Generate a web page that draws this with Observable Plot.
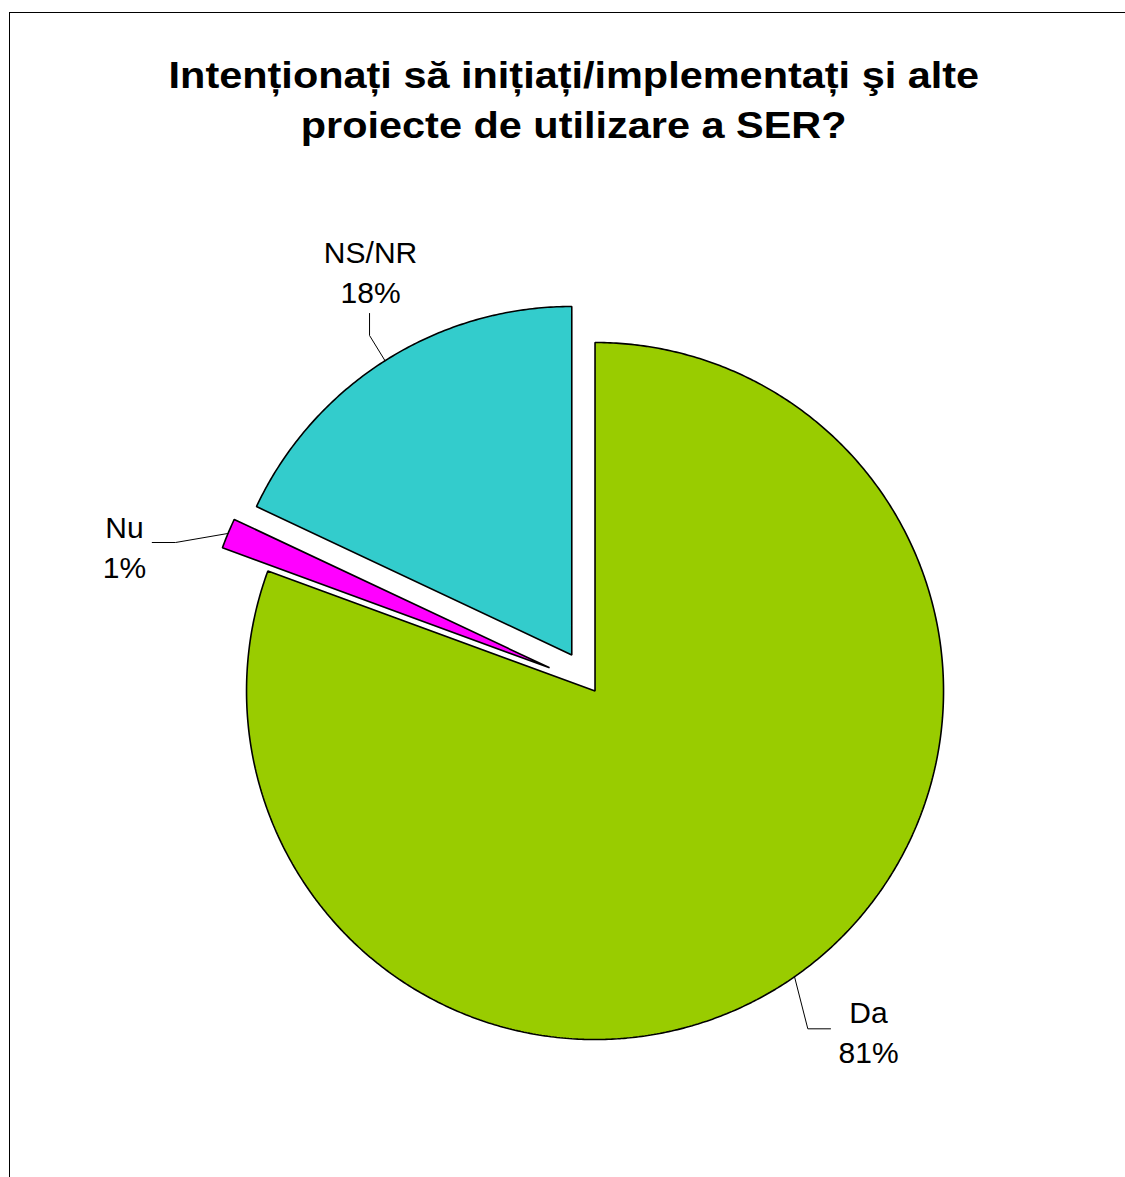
<!DOCTYPE html>
<html>
<head>
<meta charset="utf-8">
<script src="https://cdn.jsdelivr.net/npm/d3@7"></script>
<script src="https://cdn.jsdelivr.net/npm/@observablehq/plot@0.6"></script>
<style>
  html, body { margin: 0; padding: 0; background: #fff; }
  body { width: 1125px; height: 1177px; position: relative; overflow: hidden; font-family: "Liberation Sans", Arial, sans-serif; }
  #frameTop { position: absolute; left: 9px; top: 11.5px; width: 1116px; height: 0; border-top: 1.6px solid #000; }
  #frameLeft { position: absolute; left: 9px; top: 11.5px; width: 0; height: 1170px; border-left: 1.6px solid #000; }
  #title { position: absolute; left: 0; top: 50.5px; width: 1148px; text-align: center; font-weight: bold; font-size: 37px; line-height: 50px; color: #000; z-index: 2; }
  #title span { display: inline-block; white-space: nowrap; transform-origin: 50% 50%; }
  #chart { position: absolute; left: 0; top: 0; }
</style>
</head>
<body>
<div id="frameTop"></div>
<div id="frameLeft"></div>
<div id="title"><span id="t1">Intenționați să inițiați/implementați şi alte</span><br><span id="t2">proiecte de utilizare a SER?</span></div>
<div id="chart"></div>
<script>
// ---- data ----
const categories = ["Da", "Nu", "NS/NR"];
const shares = [80.6, 1.4, 18.0];          // percent of answers
const colors = ["#99CC00", "#FF00FF", "#33CCCC"];

// ---- layout (not data) ----
const W = 1125, H = 1177;
const CX = 590.4, CY = 684.6, R = 348.5;   // pie centre and radius in pixels
const explode = [0.0207, 0.1285, 0.1024];  // per-slice explosion, fraction of radius
const labelPolar = [                        // label anchor: angle (deg, clockwise from north), distance (radii)
  {a: 141.17, d: 1.2705},
  {a: 286.72, d: 1.3973},
  {a: 332.04, d: 1.3486}
];
const leaderOffsets = [                     // elbow & end relative to label anchor (px)
  [[-60.7, -1.2], [-38, -1.2]],
  [[51, -2.5], [27.7, -2.5]],
  [[-1, 65.5], [-1, 43.5]]
];

// title: horizontally stretched like the original
const titleScale = 1.12;
["t1", "t2"].forEach(id => { document.getElementById(id).style.transform = `scaleX(${titleScale})`; });

const rows = categories.map((name, i) => ({name, value: shares[i], color: colors[i]}));
const arcs = d3.pie().sort(null).value(d => d.value)(rows);

const polys = [];
const leaders = [];
const labels = [];
arcs.forEach((arc, i) => {
  const name = arc.data.name;
  const mid = (arc.startAngle + arc.endAngle) / 2;
  const ox = explode[i] * Math.sin(mid), oy = explode[i] * Math.cos(mid);
  polys.push({name, x: ox, y: oy});
  const n = Math.max(4, Math.ceil((arc.endAngle - arc.startAngle) / (Math.PI / 360)));
  for (let k = 0; k <= n; k++) {
    const t = arc.startAngle + (arc.endAngle - arc.startAngle) * k / n;
    polys.push({name, x: ox + Math.sin(t), y: oy + Math.cos(t)});
  }
  const la = labelPolar[i].a * Math.PI / 180;
  const lx = labelPolar[i].d * Math.sin(la), ly = labelPolar[i].d * Math.cos(la);
  const pct = Math.round(arc.data.value);
  labels.push({name, x: lx, y: ly, text: `${name}\n${pct}%`});
  leaders.push({name, x: ox + Math.sin(mid), y: oy + Math.cos(mid)});
  leaderOffsets[i].forEach(([dx, dy]) => leaders.push({name, x: lx + dx / R, y: ly - dy / R}));
});

const chart = Plot.plot({
  width: W,
  height: H,
  margin: 0,
  style: {background: "transparent", overflow: "visible"},
  x: {domain: [-CX / R, (W - CX) / R], axis: null},
  y: {domain: [-(H - CY) / R, CY / R], axis: null},
  color: {domain: categories, range: colors},
  marks: [
    Plot.line(leaders, {x: "x", y: "y", z: "name", stroke: "#000", strokeWidth: 1}),
    Plot.line(polys, {x: "x", y: "y", z: "name", fill: "name", stroke: "#000", strokeWidth: 1.6, strokeLinejoin: "miter", curve: "linear-closed"}),
    Plot.text(labels, {x: "x", y: "y", text: "text", fontSize: 30, lineHeight: 1.3333, lineAnchor: "middle", textAnchor: "middle", fill: "#000", fontFamily: "Liberation Sans, Arial, sans-serif"})
  ]
});
document.getElementById("chart").appendChild(chart);
</script>
</body>
</html>
